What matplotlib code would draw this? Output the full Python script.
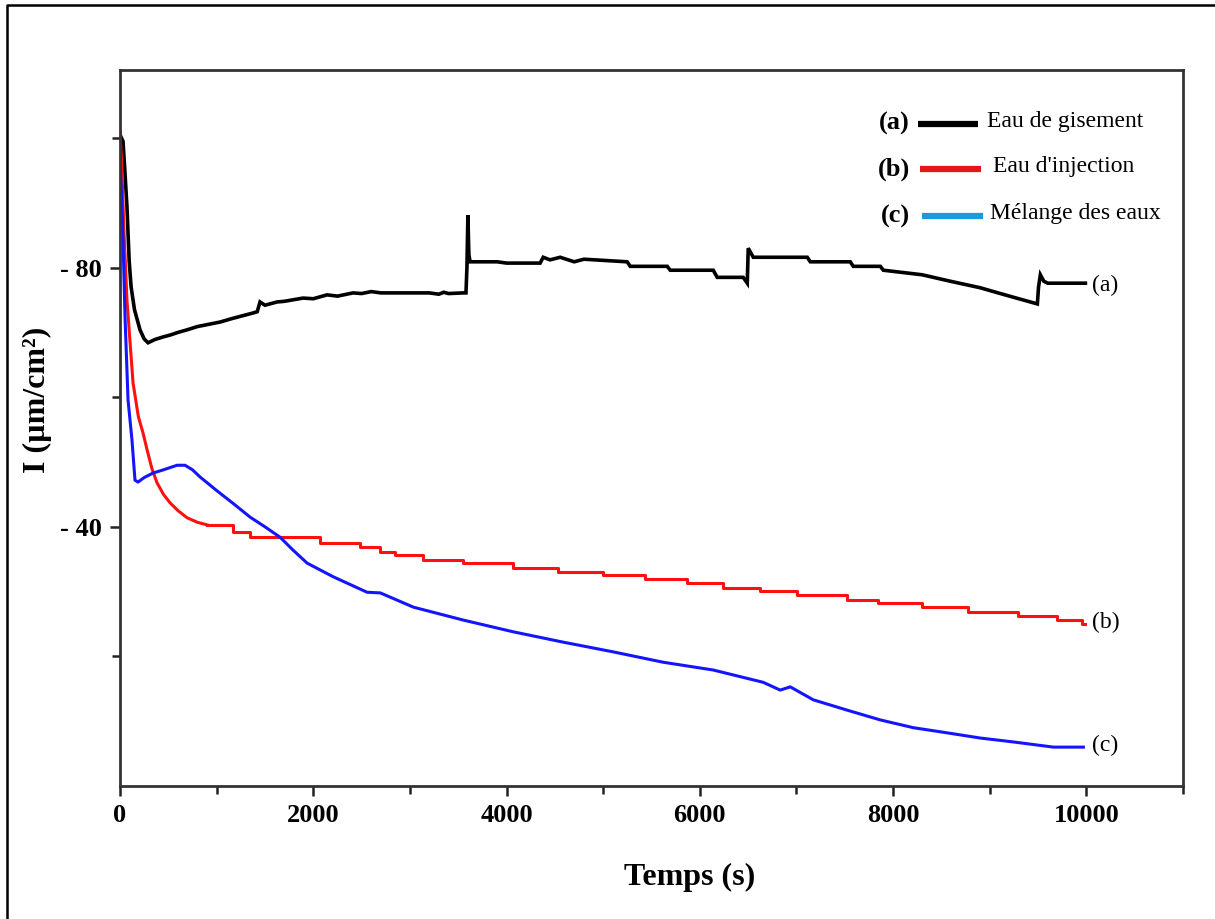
import numpy as np
import matplotlib
matplotlib.use("Agg")
import matplotlib.pyplot as plt
from matplotlib.lines import Line2D
from matplotlib.ticker import MultipleLocator, FixedLocator, FuncFormatter

# ---- data (time in s, current in µm/cm², negative) ----
t_a = [0, 31, 50, 72, 95, 115, 150, 207, 250, 290, 360, 445, 520, 600, 694,
       800, 900, 1035, 1150, 1250, 1377, 1420, 1449, 1500, 1625, 1700, 1894,
       2000, 2143, 2250, 2412, 2500, 2600, 2700, 3200, 3300, 3350, 3400,
       3551, 3580, 3590, 3600, 3610, 3623, 3903, 4000, 4348, 4379, 4450, 4555,
       4700, 4800, 5248, 5280, 5663, 5694, 6139, 6180, 6449, 6491, 6501,
       6553, 7112, 7143, 7557, 7588, 7868, 7899, 8300, 8592, 8900, 9110,
       9300, 9493, 9505, 9524, 9560, 9600, 9990]
i_a = [-100.5, -99.5, -95.0, -89.4, -81.0, -77.0, -73.5, -70.4, -69.0, -68.4,
       -68.9, -69.3, -69.6, -70.0, -70.4, -70.9, -71.2, -71.6, -72.1, -72.5,
       -73.0, -73.2, -74.7, -74.2, -74.7, -74.8, -75.3, -75.2, -75.8, -75.6,
       -76.1, -76.0, -76.3, -76.1, -76.1, -75.9, -76.2, -76.0, -76.1, -76.1,
       -80.0, -88.1, -82.0, -80.9, -80.9, -80.7, -80.7, -81.6, -81.2, -81.6,
       -80.9, -81.3, -80.9, -80.2, -80.2, -79.6, -79.6, -78.5, -78.5, -77.6,
       -83.0, -81.6, -81.6, -80.9, -80.9, -80.2, -80.2, -79.6, -78.9, -77.9,
       -76.9, -76.0, -75.2, -74.4, -77.0, -78.9, -77.9, -77.6, -77.6]

t_b_early = [0, 20, 40, 72, 135, 190, 238, 280, 330, 383, 450, 518, 600, 694,
             800, 901]
i_b_early = [-101.0, -95.0, -86.0, -75.0, -62.2, -57.0, -54.5, -51.9, -49.0,
             -46.8, -45.0, -43.7, -42.5, -41.4, -40.7, -40.3]
t_b_steps = [901, 1170, 1346, 2070, 2484, 2690, 2847, 3137, 3551, 4068, 4534,
             5000, 5435, 5870, 6242, 6625, 7008, 7526, 7847, 8302, 8778, 9296,
             9700, 9959, 9990]
i_b_steps = [-40.3, -39.2, -38.4, -37.5, -36.9, -36.1, -35.6, -34.9, -34.4,
             -33.6, -33.0, -32.6, -31.9, -31.3, -30.6, -30.1, -29.5, -28.7,
             -28.2, -27.6, -26.9, -26.2, -25.6, -25.0, -25.0]

t_c = [0, 15, 30, 52, 83, 124, 155, 186, 250, 342, 450, 590, 673, 750, 828,
       1000, 1180, 1346, 1500, 1656, 1791, 1936, 2205, 2557, 2694, 3036, 3554,
       4068, 4586, 5104, 5621, 6139, 6656, 6832, 6936, 7174, 7526, 7867, 8209,
       8561, 8903, 9244, 9659, 9969]
i_c = [-97.0, -91.5, -85.0, -72.4, -59.6, -53.4, -47.2, -46.9, -47.6, -48.3,
       -48.8, -49.5, -49.5, -48.8, -47.7, -45.6, -43.5, -41.5, -40.0, -38.4,
       -36.4, -34.4, -32.3, -29.9, -29.8, -27.6, -25.6, -23.8, -22.2, -20.7,
       -19.1, -17.9, -16.0, -14.8, -15.3, -13.3, -11.7, -10.2, -9.0, -8.2,
       -7.4, -6.8, -6.0, -6.0]

legend_tags = ["(a)", "(b)", "(c)"]
legend_names = ["Eau de gisement", "Eau d'injection", "Mélange des eaux"]
legend_colors = ["#000000", "#e8141c", "#1a9be0"]

SERIF = "Liberation Serif"
plt.rcParams["font.family"] = [SERIF, "DejaVu Serif"]

fig = plt.figure(figsize=(12.15, 9.19), dpi=100)
W, H = 1215, 919
ax = fig.add_axes([120 / W, 1 - 786 / H, 1063 / W, 716 / H])

ax.plot(t_a, i_a, color="black", lw=2.6, solid_joinstyle="miter")
ax.plot(t_b_early, i_b_early, color="#ff1010", lw=2.2)
ax.plot(t_b_steps, i_b_steps, color="#ff1010", lw=2.2, drawstyle="steps-post")
ax.plot(t_c, i_c, color="#1414ff", lw=2.2)

ax.set_xlim(0, 11000)
ax.set_ylim(0, -110.5)

ax.xaxis.set_major_locator(MultipleLocator(2000))
ax.xaxis.set_minor_locator(MultipleLocator(1000))
ax.yaxis.set_major_locator(FixedLocator([-80, -40]))
ax.yaxis.set_minor_locator(FixedLocator([-100, -60, -20]))
ax.yaxis.set_major_formatter(FuncFormatter(lambda v, _: f"- {abs(v):.0f}"))

ax.tick_params(which="both", direction="out", width=1.8, colors="#222222",
               labelcolor="black")
ax.tick_params(which="major", length=7, pad=6, labelsize=19)
ax.tick_params(which="minor", length=5.5)
for lab in ax.get_xticklabels() + ax.get_yticklabels():
    lab.set_fontweight("bold")

for sp in ax.spines.values():
    sp.set_linewidth(2.0)
    sp.set_color("#333333")

# axis titles
fig.text(690 / W, 1 - 877 / H, "Temps (s)", ha="center", va="center",
         fontsize=23, fontweight="bold")
fig.text(37 / W, 1 - 400 / H, "I (µm/cm²)", ha="center", va="center",
         rotation=90, fontsize=23, fontweight="bold")

# legend drawn by hand: bold tag, coloured key, plain name
rows_y = [0.925, 0.862, 0.796]
key_x = [(0.751, 0.807), (0.753, 0.810), (0.754, 0.812)]
name_x = [0.816, 0.821, 0.818]
for tag, name, col, y, (x0, x1), xn in zip(legend_tags, legend_names,
                                           legend_colors, rows_y, key_x,
                                           name_x):
    ax.text(0.743, y, tag, transform=ax.transAxes, ha="right", va="center",
            fontsize=19, fontweight="bold")
    ax.add_line(Line2D([x0, x1], [y, y], transform=ax.transAxes, color=col,
                       lw=4.5, solid_capstyle="butt"))
    ax.text(xn, y + 0.003, name, transform=ax.transAxes, ha="left",
            va="center", fontsize=17)

# curve end tags
for tag, y in zip(legend_tags, [0.699, 0.228, 0.057]):
    ax.text(0.914, y, tag, transform=ax.transAxes, ha="left", va="center",
            fontsize=17)

# outer frame (left and top edges visible)
fig.add_artist(Line2D([7 / W, 7 / W, 1.0], [0.0, 1 - 5 / H, 1 - 5 / H],
                      transform=fig.transFigure, color="black", lw=1.8))

fig.savefig("out.png", dpi=100)
